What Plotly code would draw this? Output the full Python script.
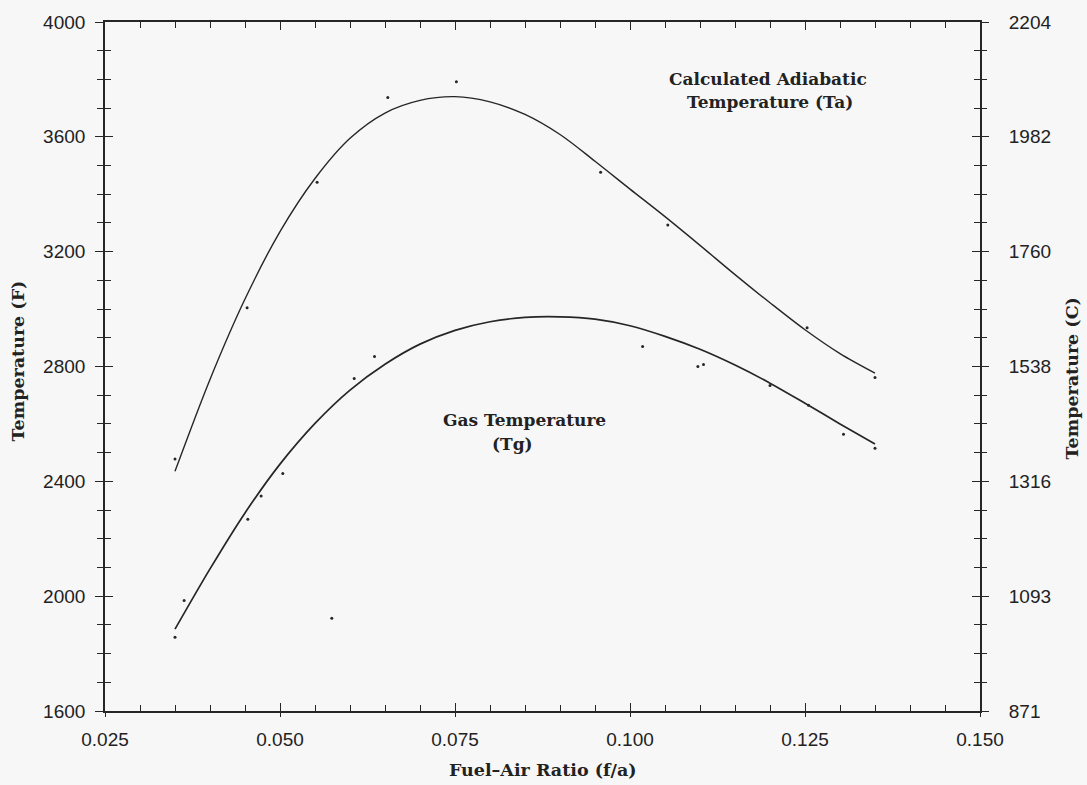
import plotly.graph_objects as go

# ---- data ----
fuel_air = [0.035, 0.040, 0.045, 0.050, 0.055, 0.060, 0.065, 0.070, 0.075, 0.080, 0.085,
            0.090, 0.095, 0.100, 0.105, 0.110, 0.115, 0.120, 0.125, 0.130, 0.135]
t_adiabatic = [2435, 2755, 3035, 3270, 3455, 3595, 3683, 3727, 3740, 3722, 3678,
               3608, 3515, 3418, 3322, 3222, 3120, 3022, 2928, 2845, 2777]
t_gas = [1885, 2095, 2290, 2460, 2602, 2718, 2808, 2878, 2926, 2956, 2971,
         2973, 2965, 2942, 2905, 2860, 2805, 2742, 2672, 2600, 2530]

ta_pts_x = [0.035, 0.0453, 0.0553, 0.0654, 0.0752, 0.0958, 0.1054, 0.1253, 0.135]
ta_pts_y = [2478, 3005, 3442, 3737, 3792, 3477, 3293, 2935, 2762]
tg_pts_x = [0.035, 0.0363, 0.0454, 0.0473, 0.0504, 0.0574, 0.0606, 0.0635, 0.1018,
            0.1097, 0.1105, 0.1200, 0.1255, 0.1305, 0.135]
tg_pts_y = [1857, 1985, 2268, 2349, 2427, 1923, 2758, 2835, 2870,
            2800, 2807, 2734, 2665, 2564, 2515]

x_ticks = [0.025, 0.050, 0.075, 0.100, 0.125, 0.150]
x_ticktext = ["0.025", "0.050", "0.075", "0.100", "0.125", "0.150"]
yF_ticks = [1600, 2000, 2400, 2800, 3200, 3600, 4000]
yF_minor = list(range(1600, 4001, 100))
yC_ticktext = ["871", "1093", "1316", "1538", "1760", "1982", "2204"]

X_RANGE = [0.025, 0.150]
Y_RANGE = [1600, 4000]


def f_to_c(f):
    return (f - 32) * 5.0 / 9.0


INK = "#262626"
BG = "#f7f7f7"
TICKFONT = dict(family="Liberation Sans, Arial, sans-serif", size=19, color="#222222")
TXTFONT = dict(family="DejaVu Serif, serif", size=17, color="#222222", weight="bold")
TITLEFONT = dict(family="DejaVu Serif, serif", size=17.5, color="#222222", weight="bold")

fig = go.Figure()

fig.add_trace(go.Scatter(x=fuel_air, y=t_adiabatic, mode="lines",
                         line=dict(color=INK, width=1.4, shape="spline", smoothing=0.9),
                         showlegend=False, hoverinfo="skip"))
fig.add_trace(go.Scatter(x=fuel_air, y=t_gas, mode="lines",
                         line=dict(color=INK, width=1.7, shape="spline", smoothing=0.9),
                         showlegend=False, hoverinfo="skip"))
fig.add_trace(go.Scatter(x=ta_pts_x + tg_pts_x, y=ta_pts_y + tg_pts_y, mode="markers",
                         marker=dict(color=INK, size=3), showlegend=False, hoverinfo="skip"))
# helper invisible traces so the overlay axes get drawn
fig.add_trace(go.Scatter(x=[None], y=[None], xaxis="x2", yaxis="y", showlegend=False, hoverinfo="skip"))
fig.add_trace(go.Scatter(x=[None], y=[None], xaxis="x", yaxis="y2", showlegend=False, hoverinfo="skip"))
fig.add_trace(go.Scatter(x=[None], y=[None], xaxis="x", yaxis="y3", showlegend=False, hoverinfo="skip"))

fig.update_layout(
    width=1087, height=785,
    margin=dict(l=105, r=107, t=19, b=74),
    paper_bgcolor=BG, plot_bgcolor=BG,
    showlegend=False,
    xaxis=dict(range=X_RANGE, tickmode="array", tickvals=x_ticks, ticktext=x_ticktext,
               ticks="outside", ticklen=4, tickwidth=1.3, tickcolor=INK,
               showline=True, linecolor=INK, linewidth=1.7, mirror=True,
               showgrid=False, zeroline=False, tickfont=TICKFONT, ticklabelstandoff=6),
    xaxis2=dict(range=X_RANGE, overlaying="x", anchor="y", side="bottom",
                tickmode="array", tickvals=x_ticks, ticks="inside", ticklen=8, tickwidth=1.3,
                tickcolor=INK, showticklabels=False, showline=False, mirror="ticks",
                showgrid=False, zeroline=False,
                minor=dict(ticks="inside", ticklen=6, tickwidth=1.2, tickcolor=INK,
                           dtick=0.005, tick0=0.025, showgrid=False)),
    yaxis=dict(range=Y_RANGE, tickmode="array", tickvals=yF_ticks,
               ticks="outside", ticklen=8, tickwidth=1.3, tickcolor=INK,
               showline=True, linecolor=INK, linewidth=1.7, mirror=True,
               showgrid=False, zeroline=False, tickfont=TICKFONT, ticklabelstandoff=6,
               minor=dict(ticks="outside", ticklen=6, tickwidth=1.2, tickcolor=INK,
                          dtick=100, tick0=1600, showgrid=False)),
    yaxis3=dict(range=Y_RANGE, overlaying="y", anchor="x", side="left",
                tickmode="array", tickvals=yF_ticks, ticks="inside", ticklen=8, tickwidth=1.3,
                tickcolor=INK, showticklabels=False, showline=False, mirror="ticks",
                showgrid=False, zeroline=False,
                minor=dict(ticks="inside", ticklen=6, tickwidth=1.2, tickcolor=INK,
                           dtick=100, tick0=1600, showgrid=False)),
    yaxis2=dict(range=[f_to_c(Y_RANGE[0]), f_to_c(Y_RANGE[1])], overlaying="y", anchor="x",
                side="right", tickmode="array", tickvals=[f_to_c(v) for v in yF_ticks],
                ticktext=yC_ticktext, ticks="outside", ticklen=8, tickwidth=1.3, tickcolor=INK,
                showline=False, showgrid=False, zeroline=False, tickfont=TICKFONT,
                ticklabelstandoff=16,
                minor=dict(ticks="outside", ticklen=6, tickwidth=1.2, tickcolor=INK,
                           tickmode="array", tickvals=[f_to_c(v) for v in yF_minor],
                           showgrid=False)),
)

ann = []
ann.append(dict(x=0.1197, y=3800, xref="x", yref="y", text="Calculated Adiabatic",
                showarrow=False, font=TXTFONT, xanchor="center", yanchor="middle"))
ann.append(dict(x=0.1200, y=3720, xref="x", yref="y", text="Temperature (Ta)",
                showarrow=False, font=TXTFONT, xanchor="center", yanchor="middle"))
ann.append(dict(x=0.0849, y=2612, xref="x", yref="y", text="Gas Temperature",
                showarrow=False, font=TXTFONT, xanchor="center", yanchor="middle"))
ann.append(dict(x=0.0832, y=2530, xref="x", yref="y", text="(Tg)",
                showarrow=False, font=TXTFONT, xanchor="center", yanchor="middle"))
ann.append(dict(x=0.5, y=0.0, xref="paper", yref="paper", text="Fuel–Air Ratio (f/a)",
                showarrow=False, font=TITLEFONT, xanchor="center", yanchor="middle",
                yshift=-59))
ann.append(dict(x=0.0, y=0.5, xref="paper", yref="paper", text="Temperature (F)",
                showarrow=False, font=TITLEFONT, textangle=-90, xanchor="center",
                yanchor="middle", xshift=-88, yshift=5))
ann.append(dict(x=1.0, y=0.5, xref="paper", yref="paper", text="Temperature (C)",
                showarrow=False, font=TITLEFONT, textangle=-90, xanchor="center",
                yanchor="middle", xshift=91, yshift=-12))
fig.update_layout(annotations=ann)

fig.write_html("out.html")
